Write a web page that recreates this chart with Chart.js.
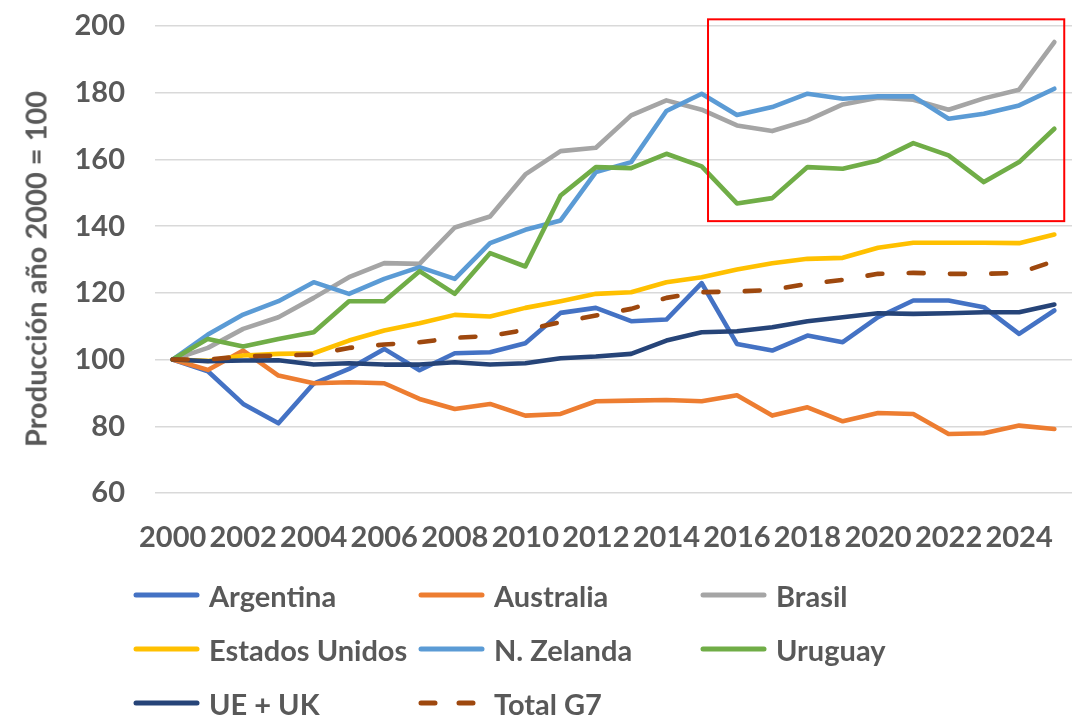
<!DOCTYPE html>
<html>
<head>
<meta charset="utf-8">
<script src="https://cdn.jsdelivr.net/npm/chart.js@4.4.1/dist/chart.umd.min.js"></script>
<style>
  html, body { margin: 0; padding: 0; background: #fff; }
  #wrap { position: relative; width: 1078px; height: 717px; overflow: hidden; }
  #c { position: absolute; left: 0; top: 0; }
  #legend { position: absolute; left: 0; top: 568px; width: 1078px; font-family: Lato, "Open Sans", sans-serif; font-weight: bold; color: #595959; }
  .item { position: absolute; display: flex; align-items: center; height: 54px; font-size: 29px; white-space: nowrap; }
  .item svg { margin-right: 9px; }
  #ytitle { position: absolute; left: 35px; top: 269px; transform: translate(-50%, -50%) rotate(-90deg); font-family: Lato, "Open Sans", sans-serif; font-weight: bold; font-size: 29px; color: #595959; white-space: nowrap; line-height: 1; }
</style>
</head>
<body>
<div id="wrap">
  <canvas id="c" width="1078" height="717"></canvas>
  <div id="ytitle">Producción año 2000 = 100</div>
  <div id="legend"></div>
</div>
<script>
const years = ["2000","2001","2002","2003","2004","2005","2006","2007","2008","2009","2010","2011","2012","2013","2014","2015","2016","2017","2018","2019","2020","2021","2022","2023","2024","2025"];

const argentina = [100,96.5,86.7,80.9,92.8,97.2,103.2,96.8,101.9,102.2,104.9,114,115.5,111.5,112,122.9,104.7,102.7,107.2,105.2,112.7,117.7,117.7,115.7,107.7,114.7];
const australia = [100,96.9,102.7,95.2,92.9,93.2,92.9,88.2,85.2,86.7,83.2,83.7,87.5,87.7,87.9,87.5,89.3,83.2,85.7,81.5,84.0,83.7,77.7,77.9,80.2,79.2];
const brasil = [100,103.5,109.2,112.7,118.5,124.7,128.9,128.7,139.6,142.9,155.5,162.5,163.5,173.2,177.7,174.9,170.2,168.5,171.7,176.5,178.5,177.9,174.9,178.3,180.9,195.2];
const estadosUnidos = [100,99.6,101.2,101.7,101.9,105.7,108.7,110.9,113.4,112.9,115.5,117.5,119.7,120.2,123.2,124.7,127.0,128.9,130.2,130.5,133.5,135,135,135,134.9,137.5];
const nZelanda = [100,107.5,113.5,117.5,123.2,119.7,124.2,127.7,124.2,134.9,138.9,141.7,156.2,159.2,174.5,179.7,173.3,175.7,179.7,178.2,178.9,178.9,172.2,173.7,176.2,181.2];
const uruguay = [100,106.2,103.9,106.2,108.2,117.5,117.5,126.5,119.7,131.9,127.9,149.2,157.7,157.4,161.7,157.9,146.8,148.4,157.7,157.2,159.7,164.9,161.2,153.2,159.2,169.2];
const ueUk = [100,99.5,99.7,99.8,98.5,98.9,98.5,98.5,99.2,98.5,98.9,100.4,100.9,101.7,105.7,108.2,108.5,109.7,111.5,112.7,113.9,113.7,113.9,114.2,114.2,116.5];
const totalG7 = [100,100,101,101.2,101.5,103.5,104.5,105.2,106.5,107.1,108.9,111.2,113.2,115.2,118.5,120.2,120.4,120.9,122.7,123.9,125.7,126,125.7,125.7,126,129.5];

const yTicks = [60,80,100,120,140,160,180,200];
const seriesNames = ["Argentina","Australia","Brasil","Estados Unidos","N. Zelanda","Uruguay","UE + UK","Total G7"];
const seriesData = [argentina, australia, brasil, estadosUnidos, nZelanda, uruguay, ueUk, totalG7];
const seriesColors = ["#4472C4","#ED7D31","#A5A5A5","#FFC000","#5B9BD5","#70AD47","#264478","#9E480E"];

// highlight box, in data units (category index / value)
const highlightBox = { xFrom: 15.18, xTo: 25.28, yFrom: 141.5, yTo: 202 };

const FONT = "Lato, 'Open Sans', sans-serif";
const TXT = "#595959";

const datasets = seriesNames.map((name, i) => ({
  label: name,
  data: seriesData[i],
  borderColor: seriesColors[i],
  backgroundColor: seriesColors[i],
  borderWidth: 4.6,
  pointRadius: 0,
  tension: 0,
  fill: false,
  borderCapStyle: 'round',
  borderJoinStyle: 'round',
  borderDash: i === 7 ? [15, 26.3] : [],
  order: seriesNames.length - i
}));

const boxPlugin = {
  id: 'box',
  afterDatasetsDraw(chart) {
    const { ctx, scales: { x, y } } = chart;
    const l = x.getPixelForValue(highlightBox.xFrom), r = x.getPixelForValue(highlightBox.xTo);
    const t = y.getPixelForValue(highlightBox.yTo), b = y.getPixelForValue(highlightBox.yFrom);
    ctx.save();
    ctx.strokeStyle = '#FF0000';
    ctx.lineWidth = 2;
    ctx.strokeRect(l, t, r - l, b - t);
    ctx.restore();
  }
};

const chart = new Chart(document.getElementById('c'), {
  type: 'line',
  data: { labels: years, datasets },
  options: {
    responsive: false,
    animation: false,
    events: [],
    layout: { padding: { top: 26, right: 6, bottom: 154, left: 0 } },
    plugins: { legend: { display: false }, tooltip: { enabled: false } },
    scales: {
      x: {
        type: 'category',
        offset: true,
        grid: { display: false, drawTicks: false },
        border: { display: false },
        ticks: {
          autoSkip: false, maxRotation: 0, minRotation: 0,
          padding: 27,
          color: TXT,
          font: { family: FONT, weight: 'bold', size: 29 },
          callback: function(v, i) { return i % 2 === 0 ? this.getLabelForValue(v) : ''; }
        },
        afterFit(s) { s.height = 70; s.paddingLeft = 0; s.paddingRight = 0; }
      },
      y: {
        min: 60, max: 200,
        afterBuildTicks(s) { s.ticks = yTicks.map(v => ({ value: v })); },
        grid: { color: '#D9D9D9', lineWidth: 1.5, drawTicks: false },
        border: { display: false },
        ticks: {
          padding: 30,
          color: TXT,
          font: { family: FONT, weight: 'bold', size: 29 }
        },
        afterFit(s) { s.width = 155; s.paddingTop = 0; s.paddingBottom = 0; }
      }
    }
  },
  plugins: [boxPlugin]
});

// HTML legend built from datasets
const legend = document.getElementById('legend');
const colX = [133, 418, 700];
chart.data.datasets.forEach((ds, i) => {
  const row = Math.floor(i / 3), col = i % 3;
  const div = document.createElement('div');
  div.className = 'item';
  div.style.left = colX[col] + 'px';
  div.style.top = (row * 54) + 'px';
  const dash = ds.borderDash.length ? 'stroke-dasharray="14 24"' : '';
  div.innerHTML = `<svg width="67" height="10"><line x1="3" y1="5" x2="64" y2="5" stroke="${ds.borderColor}" stroke-width="5" stroke-linecap="round" ${dash}/></svg><span>${ds.label}</span>`;
  legend.appendChild(div);
});
</script>
</body>
</html>
